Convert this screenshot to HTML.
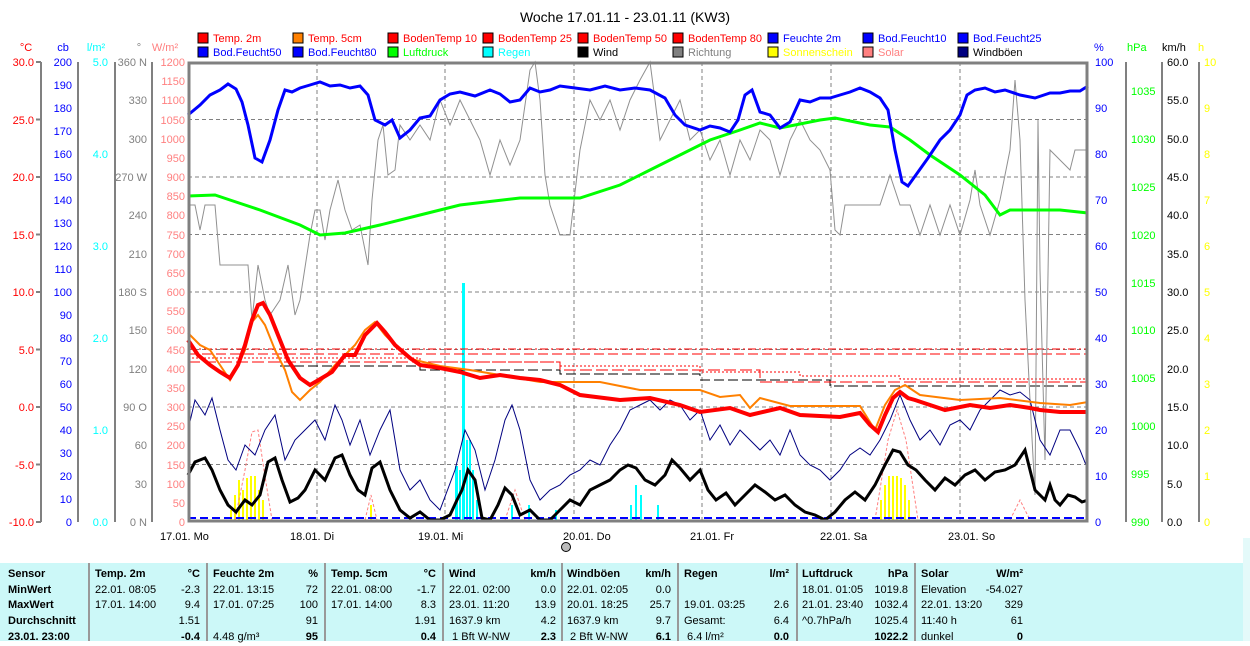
<!DOCTYPE html>
<html><head><meta charset="utf-8"><style>
body{margin:0;width:1250px;height:641px;overflow:hidden;background:#fff;font-family:"Liberation Sans",sans-serif}
svg text{font-family:"Liberation Sans",sans-serif;font-size:11px}
#tbl{position:absolute;left:0;top:563px;width:1243px;height:78px;background:#ccf8f8}
#strip{position:absolute;left:1243px;top:538px;width:7px;height:103px;background:#e4fafa}
.c{position:absolute;font-size:11px;line-height:15.7px;white-space:nowrap}
.b{font-weight:bold}
.sep{position:absolute;top:0;width:2px;height:78px;background:#999}
</style></head><body>
<svg width="1250" height="641" style="position:absolute;left:0;top:0">
<text x="625" y="22" text-anchor="middle" style="font-size:14px">Woche 17.01.11 - 23.01.11 (KW3)</text>
<g stroke="#000" stroke-width="1">
<rect x="198" y="33" width="10" height="10" fill="#f00"/><rect x="293" y="33" width="10" height="10" fill="#ff8000"/><rect x="388" y="33" width="10" height="10" fill="#f00"/><rect x="483" y="33" width="10" height="10" fill="#f00"/><rect x="578" y="33" width="10" height="10" fill="#f00"/><rect x="673" y="33" width="10" height="10" fill="#f00"/><rect x="768" y="33" width="10" height="10" fill="#00f"/><rect x="863" y="33" width="10" height="10" fill="#00f"/><rect x="958" y="33" width="10" height="10" fill="#00f"/>
<rect x="198" y="47" width="10" height="10" fill="#00f"/><rect x="293" y="47" width="10" height="10" fill="#00f"/><rect x="388" y="47" width="10" height="10" fill="#0f0"/><rect x="483" y="47" width="10" height="10" fill="#0ff"/><rect x="578" y="47" width="10" height="10" fill="#000"/><rect x="673" y="47" width="10" height="10" fill="#808080"/><rect x="768" y="47" width="10" height="10" fill="#ff0"/><rect x="863" y="47" width="10" height="10" fill="#ff8080"/><rect x="958" y="47" width="10" height="10" fill="#000080"/>
</g>
<g>
<text x="213" y="42" fill="#f00">Temp. 2m</text><text x="308" y="42" fill="#f00">Temp. 5cm</text><text x="403" y="42" fill="#f00">BodenTemp 10</text><text x="498" y="42" fill="#f00">BodenTemp 25</text><text x="593" y="42" fill="#f00">BodenTemp 50</text><text x="688" y="42" fill="#f00">BodenTemp 80</text><text x="783" y="42" fill="#00f">Feuchte 2m</text><text x="878" y="42" fill="#00f">Bod.Feucht10</text><text x="973" y="42" fill="#00f">Bod.Feucht25</text>
<text x="213" y="56" fill="#00f">Bod.Feucht50</text><text x="308" y="56" fill="#00f">Bod.Feucht80</text><text x="403" y="56" fill="#0f0">Luftdruck</text><text x="498" y="56" fill="#0ff">Regen</text><text x="593" y="56" fill="#000">Wind</text><text x="688" y="56" fill="#808080">Richtung</text><text x="783" y="56" fill="#ff0">Sonnenschein</text><text x="878" y="56" fill="#ff8080">Solar</text><text x="973" y="56" fill="#000">Windböen</text>
</g>
<text x="26" y="51" fill="#f00" text-anchor="middle">°C</text><text x="63" y="51" fill="#00f" text-anchor="middle">cb</text><text x="96" y="51" fill="#0ff" text-anchor="middle">l/m²</text><text x="139" y="51" fill="#808080" text-anchor="middle">°</text><text x="165" y="51" fill="#ff8080" text-anchor="middle">W/m²</text>
<text x="1094" y="51" fill="#00f">%</text><text x="1127" y="51" fill="#0f0">hPa</text><text x="1162" y="51" fill="#000">km/h</text><text x="1198" y="51" fill="#ff0">h</text>
<g stroke="#808080" stroke-width="2" fill="none">
<path d="M41 62V522M36 62h5M36 119.5h5M36 177h5M36 234.5h5M36 292h5M36 349.5h5M36 407h5M36 464.5h5M36 522h5"/>
<path d="M78 62V522"/><path d="M115 62V522"/><path d="M152 62V522"/>
<path d="M1126 62V522"/><path d="M1162 62V522"/><path d="M1199 62V522"/>
</g>
<g fill="#f00" text-anchor="end"><text x="34" y="66">30.0</text><text x="34" y="124">25.0</text><text x="34" y="181">20.0</text><text x="34" y="239">15.0</text><text x="34" y="296">10.0</text><text x="34" y="354">5.0</text><text x="34" y="411">0.0</text><text x="34" y="469">-5.0</text><text x="34" y="526">-10.0</text></g>
<g fill="#00f" text-anchor="end"><text x="72" y="66">200</text><text x="72" y="89">190</text><text x="72" y="112">180</text><text x="72" y="135">170</text><text x="72" y="158">160</text><text x="72" y="181">150</text><text x="72" y="204">140</text><text x="72" y="227">130</text><text x="72" y="250">120</text><text x="72" y="273">110</text><text x="72" y="296">100</text><text x="72" y="319">90</text><text x="72" y="342">80</text><text x="72" y="365">70</text><text x="72" y="388">60</text><text x="72" y="411">50</text><text x="72" y="434">40</text><text x="72" y="457">30</text><text x="72" y="480">20</text><text x="72" y="503">10</text><text x="72" y="526">0</text></g>
<g fill="#0ff" text-anchor="end"><text x="108" y="66">5.0</text><text x="108" y="158">4.0</text><text x="108" y="250">3.0</text><text x="108" y="342">2.0</text><text x="108" y="434">1.0</text><text x="108" y="526">0.0</text></g>
<g fill="#808080" text-anchor="end"><text x="147" y="66">360 N</text><text x="147" y="104">330</text><text x="147" y="143">300</text><text x="147" y="181">270 W</text><text x="147" y="219">240</text><text x="147" y="258">210</text><text x="147" y="296">180 S</text><text x="147" y="334">150</text><text x="147" y="373">120</text><text x="147" y="411">90 O</text><text x="147" y="449">60</text><text x="147" y="488">30</text><text x="147" y="526">0 N</text></g>
<g fill="#ff8080" text-anchor="end"><text x="185" y="66">1200</text><text x="185" y="85">1150</text><text x="185" y="104">1100</text><text x="185" y="124">1050</text><text x="185" y="143">1000</text><text x="185" y="162">950</text><text x="185" y="181">900</text><text x="185" y="200">850</text><text x="185" y="219">800</text><text x="185" y="239">750</text><text x="185" y="258">700</text><text x="185" y="277">650</text><text x="185" y="296">600</text><text x="185" y="315">550</text><text x="185" y="334">500</text><text x="185" y="354">450</text><text x="185" y="373">400</text><text x="185" y="392">350</text><text x="185" y="411">300</text><text x="185" y="430">250</text><text x="185" y="449">200</text><text x="185" y="469">150</text><text x="185" y="488">100</text><text x="185" y="507">50</text><text x="185" y="526">0</text></g>
<g fill="#00f"><text x="1095" y="66">100</text><text x="1095" y="112">90</text><text x="1095" y="158">80</text><text x="1095" y="204">70</text><text x="1095" y="250">60</text><text x="1095" y="296">50</text><text x="1095" y="342">40</text><text x="1095" y="388">30</text><text x="1095" y="434">20</text><text x="1095" y="480">10</text><text x="1095" y="526">0</text></g>
<g fill="#0f0"><text x="1131" y="95">1035</text><text x="1131" y="143">1030</text><text x="1131" y="191">1025</text><text x="1131" y="239">1020</text><text x="1131" y="287">1015</text><text x="1131" y="334">1010</text><text x="1131" y="382">1005</text><text x="1131" y="430">1000</text><text x="1131" y="478">995</text><text x="1131" y="526">990</text></g>
<g fill="#000"><text x="1167" y="66">60.0</text><text x="1167" y="104">55.0</text><text x="1167" y="143">50.0</text><text x="1167" y="181">45.0</text><text x="1167" y="219">40.0</text><text x="1167" y="258">35.0</text><text x="1167" y="296">30.0</text><text x="1167" y="334">25.0</text><text x="1167" y="373">20.0</text><text x="1167" y="411">15.0</text><text x="1167" y="449">10.0</text><text x="1167" y="488">5.0</text><text x="1167" y="526">0.0</text></g>
<g fill="#ff0"><text x="1204" y="66">10</text><text x="1204" y="112">9</text><text x="1204" y="158">8</text><text x="1204" y="204">7</text><text x="1204" y="250">6</text><text x="1204" y="296">5</text><text x="1204" y="342">4</text><text x="1204" y="388">3</text><text x="1204" y="434">2</text><text x="1204" y="480">1</text><text x="1204" y="526">0</text></g>
<g stroke="#808080" stroke-dasharray="4,3" stroke-width="1">
<path d="M188 119.5H1088M188 177H1088M188 234.5H1088M188 292H1088M188 349.5H1088M188 407H1088M188 464.5H1088"/>
<path d="M317 62V522M445 62V522M574 62V522M702 62V522M831 62V522M960 62V522"/>
</g>
<g fill="#ff0"><rect x="230" y="510" width="2" height="12"/><rect x="234" y="495" width="2" height="27"/><rect x="238" y="480" width="2" height="42"/><rect x="242" y="490" width="2" height="32"/><rect x="246" y="478" width="2" height="44"/><rect x="250" y="476" width="2" height="46"/><rect x="254" y="476" width="2" height="46"/><rect x="258" y="490" width="2" height="32"/><rect x="262" y="500" width="2" height="22"/><rect x="370" y="505" width="2" height="17"/><rect x="880" y="500" width="2" height="22"/><rect x="884" y="485" width="2" height="37"/><rect x="888" y="476" width="2" height="46"/><rect x="892" y="476" width="2" height="46"/><rect x="896" y="476" width="2" height="46"/><rect x="900" y="478" width="2" height="44"/><rect x="904" y="485" width="2" height="37"/><rect x="908" y="500" width="2" height="22"/></g>
<g fill="#0ff"><rect x="455" y="466" width="3" height="56"/><rect x="459" y="470" width="2" height="52"/><rect x="462" y="283" width="3" height="239"/><rect x="466" y="440" width="2" height="82"/><rect x="469" y="440" width="2" height="82"/><rect x="472" y="470" width="2" height="52"/><rect x="476" y="500" width="2" height="22"/><rect x="511" y="505" width="2" height="17"/><rect x="528" y="505" width="2" height="17"/><rect x="555" y="510" width="2" height="12"/><rect x="630" y="505" width="2" height="17"/><rect x="635" y="485" width="2" height="37"/><rect x="640" y="495" width="2" height="27"/><rect x="657" y="505" width="2" height="17"/></g>
<g fill="none" stroke-width="1">
<path stroke="#ff8080" stroke-dasharray="3,2" d="M235 520L245 470L252 432L258 430L264 470L272 520M365 520L371 495L377 520M505 520L515 490L525 520M875 520L888 440L897 410L906 440L918 520M1010 520L1020 500L1030 520"/>
<path stroke="#f00" stroke-dasharray="8,3,2,3" d="M188 349H1088"/>
<path stroke="#f00" stroke-dasharray="10,4" d="M188 354H1088"/>
<path stroke="#f00" stroke-dasharray="2,2" d="M188 358H420V362H560V366H700V372H800V376H900V379H1088"/>
<path stroke="#000" stroke-dasharray="10,4" d="M280 366H420V370H560V374H700V380H830V386H1088"/>
<path stroke="#f00" stroke-dasharray="12,4" d="M188 362H560V370H760V382H1088"/>
<path stroke="#00f" stroke-width="2" stroke-dasharray="8,4" d="M188 518H1088"/>
<path stroke="#909090" d="M188 205L195 205L200 230L205 205L215 205L220 265L248 265L252 320L258 265L265 300L270 315L280 300L288 265L295 315L300 300L310 235L315 210L320 210L325 240L330 210L338 180L345 210L352 230L360 225L368 265L372 200L378 140L383 125L388 175L395 170L400 125L410 140L420 125L430 140L440 100L450 125L460 100L470 120L480 140L490 175L500 140L510 165L520 140L530 70L535 62L540 100L545 175L550 205L560 235L570 235L580 150L590 100L600 120L610 100L620 130L630 100L640 80L650 62L655 100L660 140L670 120L680 100L690 140L700 130L710 160L720 140L730 175L740 140L750 160L760 130L770 140L780 175L790 140L800 120L810 140L820 150L830 170L835 230L840 235L845 205L880 205L890 175L900 205L910 205L920 235L930 205L940 235L950 205L960 235L970 200L975 170L980 205L990 235L1000 200L1010 150L1015 80L1020 140L1025 300L1030 400L1035 495L1038 120L1040 270L1045 460L1050 150L1070 170L1075 150L1088 150"/>
<path stroke="#000080" d="M188 430L195 400L205 415L212 398L220 430L228 460L236 470L245 445L255 455L265 430L275 415L285 460L295 440L305 430L315 420L325 440L335 405L342 420L350 445L360 420L370 455L380 430L390 410L400 470L410 490L420 480L430 500L440 510L455 470L465 430L475 450L485 490L495 460L505 420L512 405L520 430L530 480L540 500L550 490L560 485L570 475L580 470L590 460L600 465L610 445L620 430L630 410L640 405L650 400L660 410L670 400L680 405L690 420L700 410L710 440L720 425L730 445L740 430L750 440L760 450L770 440L780 455L790 430L800 455L810 465L820 470L830 480L840 470L850 455L860 448L870 455L880 440L890 420L900 395L910 420L920 440L930 430L940 445L950 425L960 420L970 430L980 410L990 400L1000 390L1010 395L1020 392L1030 400L1040 440L1050 455L1060 430L1070 430L1080 450L1088 470"/>
<path stroke="#000" stroke-width="3" d="M188 475L195 462L205 458L212 470L220 490L228 505L236 512L245 500L252 505L260 495L268 462L275 458L282 480L290 502L298 498L305 490L315 470L325 480L335 458L342 455L350 475L358 490L365 495L372 468L380 462L390 490L400 510L410 518L420 512L430 520L440 520L450 515L457 500L462 490L468 470L475 480L482 518L490 520L498 505L505 488L512 495L520 515L530 510L540 520L550 520L560 510L570 500L580 505L590 490L600 485L610 480L620 470L628 465L636 468L645 480L655 485L665 475L672 460L680 468L690 480L700 470L708 490L716 500L726 493L735 505L745 495L755 485L765 492L775 500L785 495L795 505L805 512L815 515L825 520L835 512L845 500L855 492L865 500L875 485L885 465L893 450L900 452L908 465L916 470L925 480L935 490L945 478L955 485L965 475L975 470L985 480L995 472L1005 470L1015 465L1025 450L1030 470L1035 490L1045 500L1050 485L1055 500L1060 505L1068 495L1075 497L1082 502L1088 500"/>
<path stroke="#0f0" stroke-width="3" d="M188 196L215 195L230 200L260 210L300 225L320 235L345 233L380 225L420 215L460 205L520 198L580 198L620 185L650 170L680 155L710 140L740 130L760 123L780 128L820 120L835 118L870 125L890 127L910 140L930 155L960 175L985 195L1000 215L1010 210L1060 210L1088 213"/>
<path stroke="#00f" stroke-width="3" d="M188 115L200 105L210 95L220 90L228 84L236 89L242 102L248 125L255 158L262 162L270 140L278 110L285 90L292 92L300 88L310 85L320 82L330 86L340 85L350 88L360 86L368 95L375 120L385 125L392 120L400 138L410 130L420 118L430 116L440 100L450 94L460 92L475 96L490 90L500 94L510 102L520 100L530 88L540 92L550 90L560 86L575 88L590 90L605 86L620 90L635 88L650 90L665 98L675 115L685 125L700 130L710 126L720 128L730 132L738 120L745 95L752 90L760 112L770 115L780 128L790 122L800 100L810 102L820 98L830 98L840 95L850 92L860 88L870 92L880 98L888 110L895 150L902 182L908 186L918 172L928 158L940 140L950 130L960 115L967 95L975 90L985 88L995 92L1005 90L1020 95L1035 98L1050 93L1060 93L1070 91L1080 91L1088 86"/>
<path stroke="#ff8000" stroke-width="2" d="M188 333L200 345L210 350L220 365L230 380L238 365L245 350L252 322L258 315L265 325L275 350L285 370L292 392L300 400L310 390L320 382L335 365L345 355L355 345L365 330L375 322L385 335L395 345L405 355L415 360L440 366L470 370L500 375L540 382L600 382L640 390L700 390L720 397L740 395L750 408L760 398L790 406L860 406L875 430L885 405L895 390L905 385L920 395L960 400L1000 398L1040 403L1070 405L1088 402"/>
<path stroke="#f00" stroke-width="4" d="M188 340L198 355L210 365L220 372L230 378L238 365L245 345L252 320L258 305L263 303L270 315L278 335L288 360L300 378L310 385L322 378L332 372L345 355L355 355L365 335L377 323L385 332L395 345L410 358L420 365L440 368L460 372L480 378L500 375L520 378L540 380L560 385L580 395L620 400L650 398L680 405L700 412L730 408L750 415L780 408L800 415L840 417L860 413L870 425L878 432L885 415L893 398L900 392L908 398L915 400L930 405L945 410L970 405L990 408L1010 405L1030 408L1040 410L1060 412L1088 412"/>
</g>
<rect x="189" y="63" width="898" height="458" fill="none" stroke="#808080" stroke-width="3"/>
<g fill="#000"><text x="160" y="540">17.01. Mo</text><text x="290" y="540">18.01. Di</text><text x="418" y="540">19.01. Mi</text><text x="563" y="540">20.01. Do</text><text x="690" y="540">21.01. Fr</text><text x="820" y="540">22.01. Sa</text><text x="948" y="540">23.01. So</text></g>
<circle cx="566" cy="547" r="4.5" fill="#bbb" stroke="#000"/>
</svg>
<div id="strip"></div>
<div id="tbl">
<div class="sep" style="left:88px"></div><div class="sep" style="left:206px"></div><div class="sep" style="left:324px"></div><div class="sep" style="left:442px"></div><div class="sep" style="left:561px"></div><div class="sep" style="left:677px"></div><div class="sep" style="left:796px"></div><div class="sep" style="left:914px"></div>
<div class="c b" style="left:8px;top:4px">Sensor<br>MinWert<br>MaxWert<br>Durchschnitt<br>23.01. 23:00</div>
<div class="c" style="left:95px;top:4px"><b>Temp. 2m</b><br>22.01. 08:05<br>17.01. 14:00</div>
<div class="c" style="left:160px;top:4px;width:40px;text-align:right"><b>°C</b><br>-2.3<br>9.4<br>1.51<br><b>-0.4</b></div>
<div class="c" style="left:213px;top:4px"><b>Feuchte 2m</b><br>22.01. 13:15<br>17.01. 07:25<br><br>4.48 g/m³</div>
<div class="c" style="left:278px;top:4px;width:40px;text-align:right"><b>%</b><br>72<br>100<br>91<br><b>95</b></div>
<div class="c" style="left:331px;top:4px"><b>Temp. 5cm</b><br>22.01. 08:00<br>17.01. 14:00</div>
<div class="c" style="left:396px;top:4px;width:40px;text-align:right"><b>°C</b><br>-1.7<br>8.3<br>1.91<br><b>0.4</b></div>
<div class="c" style="left:449px;top:4px"><b>Wind</b><br>22.01. 02:00<br>23.01. 11:20<br>1637.9 km<br>&nbsp;1 Bft W-NW</div>
<div class="c" style="left:516px;top:4px;width:40px;text-align:right"><b>km/h</b><br>0.0<br>13.9<br>4.2<br><b>2.3</b></div>
<div class="c" style="left:567px;top:4px"><b>Windböen</b><br>22.01. 02:05<br>20.01. 18:25<br>1637.9 km<br>&nbsp;2 Bft W-NW</div>
<div class="c" style="left:631px;top:4px;width:40px;text-align:right"><b>km/h</b><br>0.0<br>25.7<br>9.7<br><b>6.1</b></div>
<div class="c" style="left:684px;top:4px"><b>Regen</b><br><br>19.01. 03:25<br>Gesamt:<br>&nbsp;6.4 l/m²</div>
<div class="c" style="left:749px;top:4px;width:40px;text-align:right"><b>l/m²</b><br><br>2.6<br>6.4<br><b>0.0</b></div>
<div class="c" style="left:802px;top:4px"><b>Luftdruck</b><br>18.01. 01:05<br>21.01. 23:40<br>^0.7hPa/h</div>
<div class="c" style="left:862px;top:4px;width:46px;text-align:right"><b>hPa</b><br>1019.8<br>1032.4<br>1025.4<br><b>1022.2</b></div>
<div class="c" style="left:921px;top:4px"><b>Solar</b><br>Elevation<br>22.01. 13:20<br>11:40 h<br>dunkel</div>
<div class="c" style="left:963px;top:4px;width:60px;text-align:right"><b>W/m²</b><br>-54.027<br>329<br>61<br><b>0</b></div>
</div>
</body></html>
